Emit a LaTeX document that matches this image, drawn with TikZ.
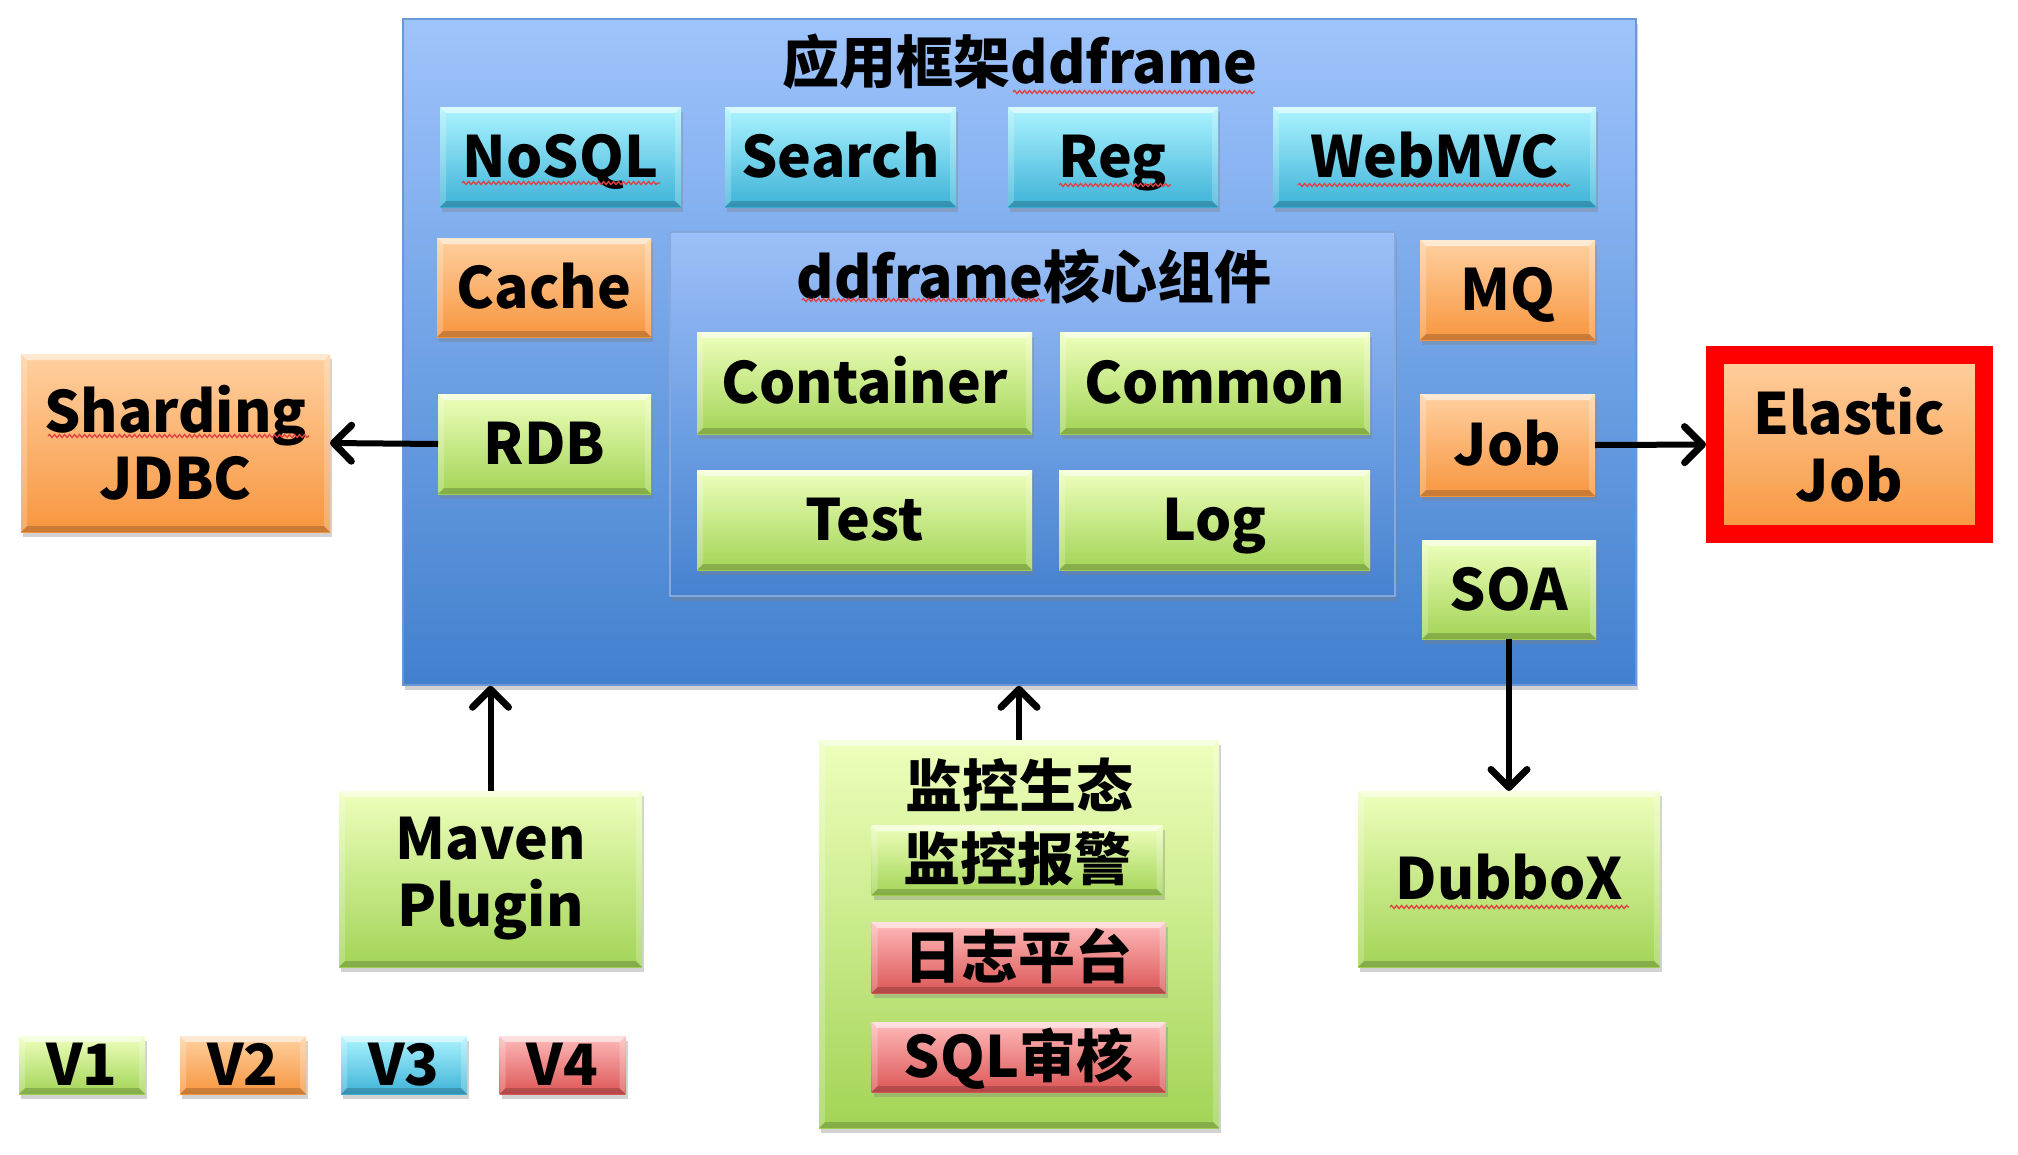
\documentclass[tikz,border=0pt]{standalone}
\usepackage{fontspec}
\setmainfont{Noto Sans CJK SC}
\newfontfamily\cjk{Noto Sans CJK SC}
\usetikzlibrary{shadows,arrows.meta,decorations.pathmorphing}
\definecolor{blueT}{HTML}{9EC4FC}
\definecolor{blueB}{HTML}{4280CE}
\definecolor{blueE}{HTML}{6A98D6}
\definecolor{coreT}{HTML}{9CC0F8}
\definecolor{coreB}{HTML}{4682D0}
\definecolor{coreE}{HTML}{86A8DC}
\definecolor{cyanT}{HTML}{ACF4FF}
\definecolor{cyanB}{HTML}{3EB2D8}
\definecolor{oranT}{HTML}{FFD0A0}
\definecolor{oranB}{HTML}{F7963F}
\definecolor{grnT}{HTML}{EEFFBC}
\definecolor{grnB}{HTML}{A2D456}
\definecolor{redT}{HTML}{FFBABA}
\definecolor{redB}{HTML}{DC5656}
\definecolor{squigred}{HTML}{E04040}
\newcommand\mybevel{%
  \path (path picture bounding box.north west) coordinate (bNW)
        (path picture bounding box.north east) coordinate (bNE)
        (path picture bounding box.south west) coordinate (bSW)
        (path picture bounding box.south east) coordinate (bSE);
  \fill[white,opacity=0.55] (bNW) -- (bNE) -- ([shift={(-6pt,-6pt)}]bNE) -- ([shift={(6pt,-6pt)}]bNW) -- cycle;
  \fill[white,opacity=0.22] (bNW) -- ([shift={(6pt,-6pt)}]bNW) -- ([shift={(6pt,6pt)}]bSW) -- (bSW) -- cycle;
  \fill[white,opacity=0.22] (bNE) -- ([shift={(-6pt,-6pt)}]bNE) -- ([shift={(-6pt,6pt)}]bSE) -- (bSE) -- cycle;
  \fill[black,opacity=0.18] (bSW) -- ([shift={(6pt,6pt)}]bSW) -- ([shift={(-6pt,6pt)}]bSE) -- (bSE) -- cycle;
}
\begin{document}
\begin{tikzpicture}[x=1pt,y=-1pt,
  txt/.style={font=\bfseries\fontsize{57}{67}\selectfont, text=black},
  oneline/.style={text height=41pt, text depth=0pt},
  shad/.style={drop shadow={shadow xshift=2pt, shadow yshift=-5pt, opacity=0.35}},
  base/.style={rectangle, inner sep=0pt, outer sep=0pt, txt, shad, path picture={\mybevel}},
  cyanbox/.style={base, top color=cyanT, bottom color=cyanB},
  oranbox/.style={base, top color=oranT, bottom color=oranB},
  grnbox/.style={base, top color=grnT, bottom color=grnB},
  redbox/.style={base, top color=redT, bottom color=redB},
  arrow/.style={line width=6pt, -{Straight Barb[length=18pt,width=36pt,line width=7pt,round]}},
  squig/.style={squigred, line width=1.3pt, decorate, decoration={snake, amplitude=1.5pt, segment length=5pt}}
]
\useasboundingbox (0,0) rectangle (2018,1154);
\fill[white] (0,0) rectangle (2018,1154);

% main frame
\node[rectangle, inner sep=0pt, shad, top color=blueT, bottom color=blueB, draw=blueE, line width=1.5pt,
      minimum width=1233pt, minimum height=666pt] (main) at (1019.5,352) {};
\node[txt, oneline] (title) at (1020,63) {{\cjk 应用框架}ddframe};

% row of cyan boxes
\node[cyanbox, oneline, minimum width=241pt, minimum height=100pt] (nosql) at (560.5,157) {NoSQL};
\node[cyanbox, oneline, minimum width=231pt, minimum height=100pt] (search) at (840.5,157) {Search};
\node[cyanbox, oneline, minimum width=210pt, minimum height=100pt] (reg) at (1113,157) {Reg};
\node[cyanbox, oneline, minimum width=323pt, minimum height=100pt] (webmvc) at (1434.5,157) {WebMVC};

% left column
\node[oranbox, oneline, minimum width=214pt, minimum height=99pt] (cache) at (544,287.5) {Cache};
\node[grnbox, oneline, minimum width=213pt, minimum height=100pt] (rdb) at (544.5,444) {RDB};

% core
\node[rectangle, inner sep=0pt, shad, top color=coreT, bottom color=coreB, draw=coreE, line width=1.2pt,
      minimum width=725pt, minimum height=364pt] (core) at (1032.5,414) {};
\node[txt, oneline] (coretitle) at (1034,278) {ddframe{\cjk 核心组件}};
\node[grnbox, oneline, minimum width=335pt, minimum height=102pt] (container) at (864.5,383) {Container};
\node[grnbox, oneline, minimum width=310pt, minimum height=102pt] (common) at (1215,383) {Common};
\node[grnbox, oneline, minimum width=335pt, minimum height=100pt] (test) at (864.5,520) {Test};
\node[grnbox, oneline, minimum width=311pt, minimum height=100pt] (log) at (1214.5,520) {Log};

% right column
\node[oranbox, oneline, minimum width=175pt, minimum height=100pt] (mq) at (1507.5,290) {MQ};
\node[oranbox, oneline, minimum width=175pt, minimum height=102pt] (job) at (1507.5,445) {Job};
\node[grnbox, oneline, minimum width=174pt, minimum height=99pt] (soa) at (1509,589.5) {SOA};

% outside
\node[oranbox, align=center, minimum width=309pt, minimum height=178pt] (shard) at (175.5,443) {Sharding\\JDBC};
\node[rectangle, inner sep=0pt, outer sep=0pt, txt, shad, align=center, top color=oranT, bottom color=oranB,
      draw=red, line width=18pt, minimum width=269pt, minimum height=179pt] (elastic) at (1849.5,444.5) {Elastic\\Job};
\node[grnbox, align=center, minimum width=303pt, minimum height=176pt] (maven) at (490.5,879) {Maven\\Plugin};
\node[grnbox, oneline, minimum width=302pt, minimum height=176pt] (dubbo) at (1509,879) {DubboX};

% monitoring
\node[grnbox, minimum width=400pt, minimum height=388pt] (mon) at (1019,934) {};
\node[txt, oneline] (montitle) at (1019,787) {\cjk 监控生态};
\node[grnbox, oneline, minimum width=291pt, minimum height=70pt] (alarm) at (1017,860) {\cjk 监控报警};
\node[redbox, oneline, minimum width=294pt, minimum height=71pt] (logp) at (1018.5,957.5) {\cjk 日志平台};
\node[redbox, oneline, minimum width=294pt, minimum height=70pt] (sqlaudit) at (1018.5,1057) {SQL{\cjk 审核}};

% legend
\node[grnbox, oneline, minimum width=126pt, minimum height=58pt] (v1) at (82,1065) {V1};
\node[oranbox, oneline, minimum width=126pt, minimum height=58pt] (v2) at (243,1065) {V2};
\node[cyanbox, oneline, minimum width=126pt, minimum height=58pt] (v3) at (404,1065) {V3};
\node[redbox, oneline, minimum width=126pt, minimum height=58pt] (v4) at (562.5,1065) {V4};

% connectors
\draw[arrow] (rdb.west) -- (shard.east);
\draw[arrow, shorten >=9pt] (job.east) -- (elastic.west);
\draw[arrow] (maven.north) -- (maven.north |- main.south);
\draw[arrow] (mon.north) -- (mon.north |- main.south);
\draw[arrow] (soa.south) -- (dubbo.north);

% spell-check squiggles
\draw[squig] (1013,92) -- (1255,92);
\draw[squig] (462,183) -- (660,183);
\draw[squig] (1059,185) -- (1171,185);
\draw[squig] (1298,185) -- (1570,185);
\draw[squig] (802,300) -- (1045,300);
\draw[squig] (48,436) -- (309,436);
\draw[squig] (1390,907) -- (1629,907);
\end{tikzpicture}
\end{document}
